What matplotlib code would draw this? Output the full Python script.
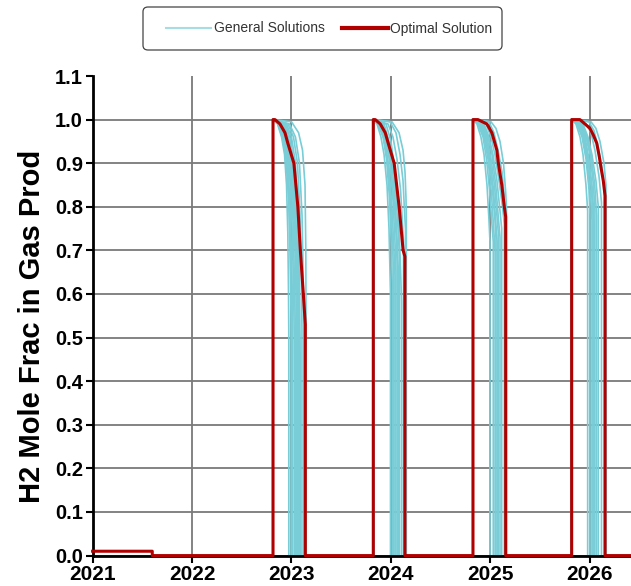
import matplotlib
matplotlib.use("Agg")
import matplotlib.pyplot as plt
from matplotlib.lines import Line2D
from matplotlib.patches import FancyBboxPatch

plt.rcParams["font.family"] = ["Liberation Sans", "DejaVu Sans"]

RED = "#b00000"
CYAN = "#78cdd7"

# time axis
x_start, x_end = 2021.0, 2026.417
years = [2021, 2022, 2023, 2024, 2025, 2026]
y_ticks = [0.0, 0.1, 0.2, 0.3, 0.4, 0.5, 0.6, 0.7, 0.8, 0.9, 1.0, 1.1]

# early low-rate period of the optimal run
opt_early_years = [2021.0, 2021.6]
opt_early_frac = 0.01

# production windows: date each window opens
cycle_open = [2022.815, 2023.824, 2024.827, 2025.820]

# optimal solution, years after opening / H2 fraction
opt_dt = [
    [0, 0.02, 0.07, 0.12, 0.15, 0.21, 0.25, 0.275, 0.305, 0.325],
    [0, 0.02, 0.07, 0.12, 0.15, 0.21, 0.26, 0.30, 0.318],
    [0, 0.05, 0.14, 0.19, 0.24, 0.255, 0.29, 0.315, 0.329],
    [0, 0.083, 0.134, 0.184, 0.217, 0.252, 0.278, 0.295, 0.318, 0.336],
]
opt_frac = [
    [1, 1, 0.99, 0.97, 0.945, 0.90, 0.80, 0.70, 0.60, 0.53],
    [1, 1, 0.99, 0.97, 0.946, 0.90, 0.80, 0.70, 0.686],
    [1, 1, 0.99, 0.97, 0.93, 0.90, 0.85, 0.80, 0.777],
    [1, 1, 0.99, 0.98, 0.965, 0.946, 0.915, 0.89, 0.86, 0.825],
]

# general solutions, one list of (dt, frac) runs per window
general_c1 = [
    ([0, 0.045, 0.086, 0.116, 0.136, 0.149, 0.156, 0.159], [1, 0.99, 0.96, 0.92, 0.85, 0.74, 0.60, 0.50]),
    ([0, 0.05, 0.10, 0.14, 0.165, 0.178, 0.186], [1, 0.99, 0.955, 0.90, 0.80, 0.66, 0.55]),
    ([0, 0.055, 0.096, 0.131, 0.156, 0.171, 0.181, 0.183], [1, 0.99, 0.96, 0.91, 0.82, 0.70, 0.55, 0.47]),
    ([0, 0.065, 0.116, 0.151, 0.176, 0.191, 0.198, 0.199], [1, 0.99, 0.95, 0.89, 0.78, 0.64, 0.52, 0.46]),
    ([0, 0.075, 0.126, 0.166, 0.191, 0.206, 0.214, 0.216], [1, 0.99, 0.95, 0.88, 0.76, 0.62, 0.50, 0.45]),
    ([0, 0.085, 0.135, 0.176, 0.203, 0.218, 0.226], [1, 0.99, 0.95, 0.88, 0.76, 0.60, 0.50]),
    ([0, 0.096, 0.146, 0.186, 0.216, 0.231, 0.238, 0.239], [1, 0.99, 0.95, 0.88, 0.75, 0.60, 0.48, 0.44]),
    ([0, 0.105, 0.156, 0.196, 0.226, 0.241, 0.248], [1, 0.99, 0.95, 0.88, 0.75, 0.60, 0.47]),
    ([0, 0.116, 0.166, 0.206, 0.236, 0.251, 0.258, 0.259], [1, 0.99, 0.95, 0.88, 0.74, 0.60, 0.50, 0.45]),
    ([0, 0.126, 0.176, 0.216, 0.243, 0.258, 0.265], [1, 0.99, 0.955, 0.89, 0.76, 0.61, 0.48]),
    ([0, 0.136, 0.186, 0.226, 0.251, 0.266, 0.272, 0.273], [1, 0.99, 0.96, 0.90, 0.78, 0.62, 0.50, 0.46]),
    ([0, 0.150, 0.206, 0.246, 0.272, 0.285, 0.291], [1, 0.99, 0.96, 0.90, 0.78, 0.64, 0.52]),
    ([0, 0.166, 0.226, 0.266, 0.292, 0.302, 0.307, 0.309], [1, 0.99, 0.96, 0.90, 0.78, 0.66, 0.55, 0.50]),
    ([0, 0.186, 0.257, 0.297, 0.322, 0.330, 0.332], [1, 0.995, 0.97, 0.93, 0.85, 0.70, 0.55]),
]
general_c2 = [
    ([0, 0.037, 0.077, 0.108, 0.138, 0.158, 0.168, 0.173], [1, 0.99, 0.96, 0.92, 0.85, 0.75, 0.65, 0.60]),
    ([0, 0.047, 0.098, 0.133, 0.163, 0.183, 0.191], [1, 0.99, 0.96, 0.91, 0.82, 0.70, 0.62]),
    ([0, 0.057, 0.108, 0.146, 0.176, 0.196, 0.205], [1, 0.99, 0.955, 0.90, 0.81, 0.70, 0.63]),
    ([0, 0.067, 0.118, 0.158, 0.188, 0.208, 0.218], [1, 0.99, 0.95, 0.89, 0.80, 0.70, 0.64]),
    ([0, 0.078, 0.128, 0.168, 0.200, 0.220, 0.228], [1, 0.99, 0.95, 0.90, 0.81, 0.71, 0.65]),
    ([0, 0.088, 0.138, 0.178, 0.213, 0.233, 0.241], [1, 0.99, 0.95, 0.89, 0.80, 0.72, 0.66]),
    ([0, 0.098, 0.148, 0.188, 0.223, 0.243, 0.252], [1, 0.99, 0.95, 0.90, 0.80, 0.71, 0.65]),
    ([0, 0.108, 0.158, 0.198, 0.233, 0.254, 0.264], [1, 0.99, 0.95, 0.90, 0.81, 0.73, 0.68]),
    ([0, 0.128, 0.178, 0.218, 0.254, 0.274, 0.285], [1, 0.99, 0.95, 0.88, 0.78, 0.66, 0.58]),
    ([0, 0.148, 0.198, 0.238, 0.274, 0.294, 0.304], [1, 0.99, 0.96, 0.91, 0.84, 0.76, 0.72]),
    ([0, 0.168, 0.228, 0.269, 0.299, 0.314, 0.324], [1, 0.995, 0.97, 0.92, 0.86, 0.79, 0.75]),
    ([0, 0.188, 0.259, 0.299, 0.319, 0.329, 0.332], [1, 0.995, 0.97, 0.93, 0.88, 0.82, 0.78]),
]
general_c3 = [
    ([0, 0.040, 0.080, 0.111, 0.141, 0.161, 0.171], [1, 0.99, 0.96, 0.92, 0.85, 0.77, 0.72]),
    ([0, 0.050, 0.101, 0.136, 0.166, 0.191, 0.204], [1, 0.99, 0.96, 0.91, 0.84, 0.76, 0.72]),
    ([0, 0.060, 0.111, 0.151, 0.186, 0.211, 0.222], [1, 0.99, 0.96, 0.91, 0.83, 0.74, 0.70]),
    ([0, 0.070, 0.121, 0.161, 0.196, 0.221, 0.231], [1, 0.99, 0.96, 0.91, 0.84, 0.77, 0.73]),
    ([0, 0.080, 0.131, 0.171, 0.206, 0.231, 0.243], [1, 0.99, 0.96, 0.91, 0.84, 0.76, 0.72]),
    ([0, 0.091, 0.141, 0.181, 0.216, 0.241, 0.255], [1, 0.99, 0.96, 0.91, 0.85, 0.78, 0.74]),
    ([0, 0.101, 0.151, 0.191, 0.229, 0.257, 0.272], [1, 0.99, 0.96, 0.92, 0.85, 0.77, 0.73]),
    ([0, 0.111, 0.161, 0.201, 0.241, 0.272, 0.289], [1, 0.99, 0.96, 0.92, 0.86, 0.79, 0.75]),
    ([0, 0.131, 0.181, 0.221, 0.262, 0.297, 0.315], [1, 0.99, 0.96, 0.92, 0.86, 0.80, 0.76]),
    ([0, 0.161, 0.211, 0.252, 0.292, 0.317, 0.332], [1, 0.995, 0.97, 0.93, 0.88, 0.82, 0.78]),
    ([0, 0.181, 0.231, 0.272, 0.307, 0.327, 0.337], [1, 0.995, 0.98, 0.95, 0.90, 0.84, 0.80]),
]
general_c4 = [
    ([0, 0.043, 0.084, 0.114, 0.144, 0.161], [1, 0.99, 0.96, 0.92, 0.85, 0.79]),
    ([0, 0.053, 0.104, 0.144, 0.174, 0.184], [1, 0.99, 0.96, 0.91, 0.84, 0.78]),
    ([0, 0.063, 0.114, 0.154, 0.189, 0.204], [1, 0.99, 0.96, 0.91, 0.83, 0.77]),
    ([0, 0.073, 0.124, 0.164, 0.199, 0.214], [1, 0.99, 0.96, 0.91, 0.84, 0.78]),
    ([0, 0.084, 0.134, 0.174, 0.209, 0.224], [1, 0.99, 0.96, 0.91, 0.84, 0.77]),
    ([0, 0.094, 0.144, 0.184, 0.219, 0.234], [1, 0.99, 0.96, 0.92, 0.85, 0.79]),
    ([0, 0.104, 0.154, 0.194, 0.232, 0.251], [1, 0.99, 0.96, 0.92, 0.85, 0.78]),
    ([0, 0.114, 0.164, 0.204, 0.244, 0.268], [1, 0.99, 0.96, 0.92, 0.86, 0.80]),
    ([0, 0.144, 0.194, 0.234, 0.275, 0.300], [1, 0.99, 0.97, 0.93, 0.87, 0.81]),
    ([0, 0.174, 0.224, 0.265, 0.305, 0.330], [1, 0.995, 0.975, 0.94, 0.89, 0.83]),
    ([0, 0.194, 0.244, 0.285, 0.325, 0.345], [1, 0.995, 0.98, 0.95, 0.90, 0.85]),
]
general_runs = [general_c1, general_c2, general_c3, general_c4]


def window_trace(t0, dts, fracs):
    """closed step: rise at opening, decline, drop back to zero"""
    xs = [t0] + [t0 + d for d in dts] + [t0 + dts[-1]]
    ys = [0.0] + list(fracs) + [0.0]
    return xs, ys


fig = plt.figure(figsize=(6.31, 5.86), dpi=100)
ax = fig.add_axes([0.1468, 0.0519, 0.8532, 0.8184])

for t0, runs in zip(cycle_open, general_runs):
    for dts, fracs in runs:
        xs, ys = window_trace(t0, dts, fracs)
        ax.plot(xs, ys, color=CYAN, lw=1.2, zorder=3)

# optimal run stitched into one continuous line
ox = [opt_early_years[0], opt_early_years[1], opt_early_years[1]]
oy = [opt_early_frac, opt_early_frac, 0.0]
for t0, dts, fracs in zip(cycle_open, opt_dt, opt_frac):
    xs, ys = window_trace(t0, dts, fracs)
    ox += xs
    oy += ys
ox.append(x_end)
oy.append(0.0)
ax.plot(ox, oy, color=RED, lw=2.2, zorder=5, clip_on=False)

ax.set_xlim(x_start, x_end)
ax.set_ylim(0, 1.1)
ax.set_xticks(years)
ax.set_xticklabels([str(y) for y in years], fontsize=15, fontweight="bold")
ax.set_yticks(y_ticks)
ax.set_yticklabels([f"{v:.1f}" for v in y_ticks], fontsize=14.5, fontweight="bold")
ax.tick_params(direction="out", length=5, width=1.5, pad=2, colors="black")

ax.grid(True, color="#7a7a7a", lw=1.3)
ax.set_axisbelow(True)
ax.yaxis.get_gridlines()[-1].set_visible(False)

for side in ("top", "right"):
    ax.spines[side].set_visible(False)
for side in ("left", "bottom"):
    ax.spines[side].set_linewidth(2.0)
    ax.spines[side].set_zorder(4)

ax.set_ylabel("H2 Mole Frac in Gas Prod", fontsize=21, fontweight="bold")
ax.yaxis.set_label_coords(-0.087, 0.478)

# legend frame drawn separately so the padding can be uneven
W, H = 631.0, 586.0
frame = FancyBboxPatch((143 / W, 1 - 50 / H), 359 / W, 43 / H,
                       boxstyle="round,pad=0,rounding_size=0.008",
                       transform=fig.transFigure, facecolor="white",
                       edgecolor="#444444", lw=0.9)
fig.patches.append(frame)

handles = [
    Line2D([], [], color="#a6dde5", lw=1.5),
    Line2D([], [], color=RED, lw=3.0),
]
leg = fig.legend(handles, ["General Solutions", "Optimal Solution"],
                 loc="center", bbox_to_anchor=(329 / W, 1 - 28.5 / H), ncol=2,
                 fontsize=10, handlelength=3.3, handletextpad=0.2,
                 columnspacing=1.2, frameon=False)
for txt in leg.get_texts():
    txt.set_color("#333333")

fig.savefig("out.png", dpi=100)
